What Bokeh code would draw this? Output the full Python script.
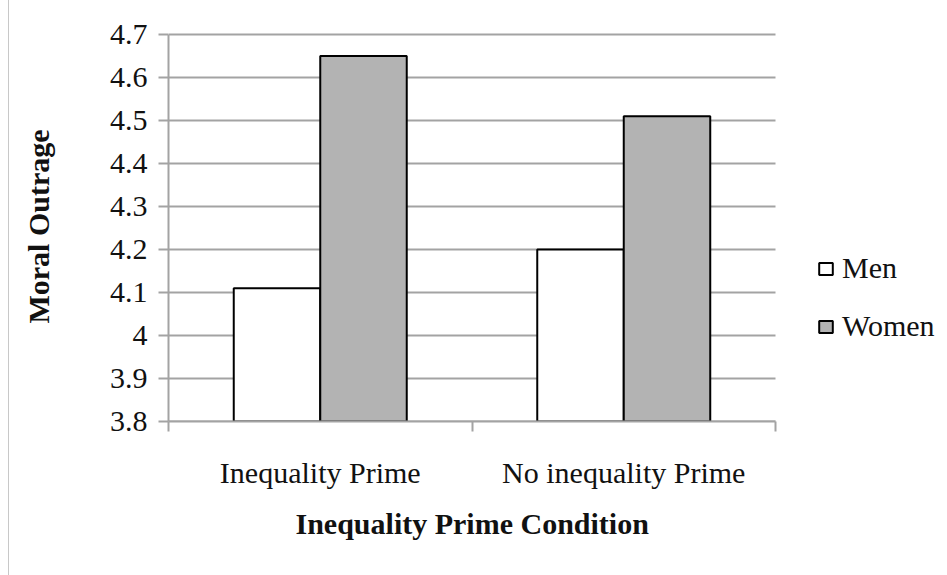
from bokeh.plotting import figure
from bokeh.models import ColumnDataSource, Range1d, FixedTicker, NumeralTickFormatter, Legend, LegendItem, Title
from bokeh.transform import dodge
from bokeh.embed import file_html
from bokeh.resources import INLINE

categories = ["Inequality Prime", "No inequality Prime"]
men = [4.11, 4.20]
women = [4.65, 4.51]
y_ticks = [3.8, 3.9, 4.0, 4.1, 4.2, 4.3, 4.4, 4.5, 4.6, 4.7]
y_labels = ["3.8", "3.9", "4", "4.1", "4.2", "4.3", "4.4", "4.5", "4.6", "4.7"]

FONT = "Liberation Serif"
GRID = "#a3a3a3"
TXT = "#111111"
FS = "30px"

# layout (pixels)
FIG_W, FIG_H = 940, 575
LEFT, TOP, BOTTOM = 168, 31, 154
PLOT_W = 607            # width of the bar area; the frame extends right to hold the legend
PLOT_H = 387            # height from the lowest to the highest tick
FRAME_W = FIG_W - LEFT
FRAME_H = FIG_H - TOP - BOTTOM
XTITLE_OFFSET = 127     # left offset of the x-axis title so it sits centred under the bars

n = len(categories)
x_pos = [i + 0.5 for i in range(n)]
x_end = n * FRAME_W / PLOT_W
y_end = y_ticks[0] + (y_ticks[-1] - y_ticks[0]) * FRAME_H / PLOT_H
src = ColumnDataSource(dict(x=x_pos, men=men, women=women))
grid_src = ColumnDataSource(dict(y=y_ticks, x0=[0] * len(y_ticks), x1=[n] * len(y_ticks)))

p = figure(width=FIG_W, height=FIG_H, output_backend="svg", toolbar_location=None,
           x_range=Range1d(0, x_end), y_range=Range1d(y_ticks[0], y_end),
           min_border_left=LEFT, min_border_right=0, min_border_top=TOP, min_border_bottom=BOTTOM)
p.outline_line_color = None
p.background_fill_color = "white"
p.border_fill_alpha = 0
p.styles = {"background-color": "white",
            "background-image": "linear-gradient(to right, transparent 8px, #c8c8c8 8px, #c8c8c8 9px, transparent 9px)"}

# horizontal gridlines over the bar area only
p.segment(x0="x0", x1="x1", y0="y", y1="y", source=grid_src, line_color=GRID, line_width=2)

bw = 0.285
r_men = p.vbar(x=dodge("x", -bw / 2), top="men", bottom=y_ticks[0], width=bw, source=src,
               fill_color="white", line_color="black", line_width=2)
r_women = p.vbar(x=dodge("x", bw / 2), top="women", bottom=y_ticks[0], width=bw, source=src,
                 fill_color="#b3b3b3", line_color="black", line_width=2)

# y axis
p.yaxis.bounds = (y_ticks[0], y_ticks[-1])
p.yaxis.ticker = FixedTicker(ticks=y_ticks)
p.yaxis.formatter = NumeralTickFormatter(format="0.[0]")
p.yaxis.major_label_overrides = {t: l for t, l in zip(y_ticks, y_labels)}
p.yaxis.major_tick_out = 10
p.yaxis.major_tick_in = 0
p.yaxis.major_tick_line_color = GRID
p.yaxis.major_tick_line_width = 2
p.yaxis.minor_tick_line_color = None
p.yaxis.axis_line_color = GRID
p.yaxis.axis_line_width = 2
p.yaxis.major_label_text_font = FONT
p.yaxis.major_label_text_font_size = FS
p.yaxis.major_label_text_color = TXT
p.yaxis.major_label_standoff = 11
p.yaxis.axis_label = "Moral Outrage"
p.yaxis.axis_label_text_font = FONT
p.yaxis.axis_label_text_font_style = "bold"
p.yaxis.axis_label_text_font_size = FS
p.yaxis.axis_label_text_color = TXT
p.yaxis.axis_label_standoff = 52

# x axis
p.xaxis.bounds = (0, n)
p.xaxis.ticker = FixedTicker(ticks=x_pos, minor_ticks=list(range(n + 1)))
p.xaxis.major_label_overrides = {x: c for x, c in zip(x_pos, categories)}
p.xaxis.major_tick_line_color = None
p.xaxis.major_tick_out = 0
p.xaxis.major_tick_in = 0
p.xaxis.minor_tick_line_color = GRID
p.xaxis.minor_tick_line_width = 2
p.xaxis.minor_tick_out = 10
p.xaxis.minor_tick_in = 0
p.xaxis.axis_line_color = GRID
p.xaxis.axis_line_width = 2
p.xaxis.major_label_text_font = FONT
p.xaxis.major_label_text_font_size = FS
p.xaxis.major_label_text_color = TXT
p.xaxis.major_label_standoff = 24

p.xgrid.visible = False
p.ygrid.visible = False

# x-axis title, centred under the bar area
p.add_layout(Title(text="Inequality Prime Condition", align="left", offset=XTITLE_OFFSET,
                   text_font=FONT, text_font_style="bold", text_font_size=FS, text_color=TXT,
                   standoff=27), "below")

legend = Legend(items=[LegendItem(label="Men", renderers=[r_men]),
                       LegendItem(label="Women", renderers=[r_women])],
                location=(649, 78), padding=0, margin=0, spacing=24,
                glyph_width=17, glyph_height=15, label_standoff=8,
                label_text_font=FONT, label_text_font_size=FS, label_text_color=TXT,
                border_line_color=None, background_fill_alpha=0)
p.add_layout(legend)

open("out.html", "w").write(file_html(p, INLINE))
